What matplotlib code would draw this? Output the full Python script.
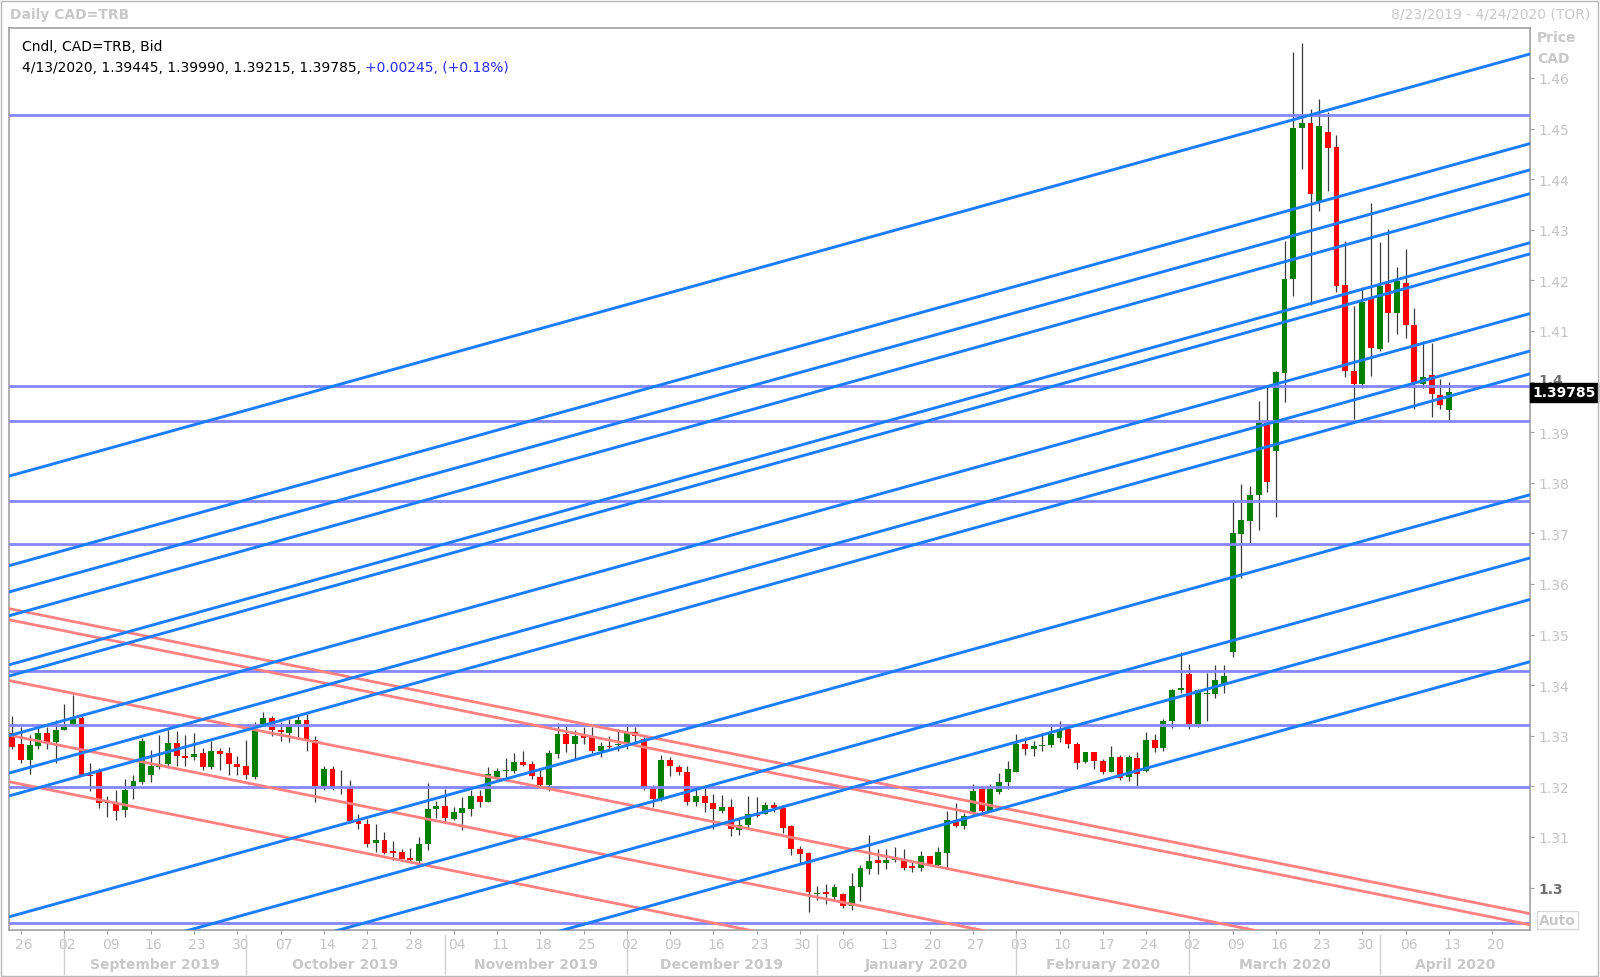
import numpy as np
import pandas as pd
import matplotlib
matplotlib.use('Agg')
import matplotlib.pyplot as plt
from matplotlib import transforms
from matplotlib.patches import Rectangle

# daily bars, 8/23/2019 .. 4/13/2020 (one per weekday)
opens = [1.3306, 1.3283, 1.3252, 1.3280, 1.3306, 1.3287, 1.3312, 1.3324, 1.3336, 1.3223,
         1.3230, 1.3172, 1.3168, 1.3153, 1.3194, 1.3209, 1.3222, 1.3238, 1.3245, 1.3286,
         1.3261, 1.3259, 1.3266, 1.3238, 1.3269, 1.3266, 1.3245, 1.3240, 1.3218, 1.3324,
         1.3335, 1.3311, 1.3306, 1.3324, 1.3332, 1.3292, 1.3200, 1.3235, 1.3199, 1.3196,
         1.3131, 1.3126, 1.3089, 1.3095, 1.3073, 1.3070, 1.3059, 1.3052, 1.3087, 1.3156,
         1.3162, 1.3136, 1.3148, 1.3156, 1.3181, 1.3170, 1.3218, 1.3231, 1.3231, 1.3248,
         1.3244, 1.3218, 1.3202, 1.3264, 1.3303, 1.3284, 1.3301, 1.3297, 1.3270, 1.3280,
         1.3282, 1.3284, 1.3307, 1.3293, 1.3198, 1.3174, 1.3253, 1.3238, 1.3228, 1.3170,
         1.3182, 1.3168, 1.3152, 1.3159, 1.3113, 1.3123, 1.3144, 1.3146, 1.3164, 1.3157,
         1.3121, 1.3077, 1.3068, 1.2988, 1.2992, 1.2981, 1.2987, 1.2964, 1.3001, 1.3037,
         1.3055, 1.3049, 1.3055, 1.3053, 1.3042, 1.3038, 1.3062, 1.3045, 1.3069, 1.3132,
         1.3122, 1.3150, 1.3194, 1.3152, 1.3188, 1.3208, 1.3228, 1.3284, 1.3274, 1.3279,
         1.3281, 1.3296, 1.3313, 1.3284, 1.3248, 1.3267, 1.3251, 1.3229, 1.3259, 1.3218,
         1.3257, 1.3231, 1.3292, 1.3275, 1.3330, 1.3390, 1.3422, 1.3323, 1.3382, 1.3383,
         1.3400, 1.3465, 1.3699, 1.3724, 1.3776, 1.3919, 1.3862, 1.4017, 1.4202, 1.4501,
         1.4512, 1.4355, 1.4494, 1.4464, 1.4191, 1.4020, 1.3995, 1.4166, 1.4064, 1.4193,
         1.4136, 1.4195, 1.4111, 1.3995, 1.4014, 1.3974, 1.39445]
highs = [1.3339, 1.3317, 1.3302, 1.3317, 1.3317, 1.3332, 1.3362, 1.3380, 1.3343, 1.3247,
         1.3236, 1.3182, 1.3192, 1.3215, 1.3222, 1.3296, 1.3271, 1.3301, 1.3312, 1.3309,
         1.3302, 1.3306, 1.3276, 1.3289, 1.3276, 1.3278, 1.3260, 1.3291, 1.3327, 1.3348,
         1.3339, 1.3328, 1.3334, 1.3339, 1.3343, 1.3299, 1.3240, 1.3240, 1.3232, 1.3212,
         1.3146, 1.3136, 1.3126, 1.3110, 1.3093, 1.3077, 1.3078, 1.3100, 1.3207, 1.3172,
         1.3194, 1.3159, 1.3179, 1.3192, 1.3192, 1.3238, 1.3236, 1.3257, 1.3266, 1.3270,
         1.3251, 1.3233, 1.3272, 1.3326, 1.3320, 1.3312, 1.3317, 1.3317, 1.3287, 1.3300,
         1.3313, 1.3320, 1.3318, 1.3297, 1.3203, 1.3262, 1.3259, 1.3242, 1.3240, 1.3195,
         1.3197, 1.3185, 1.3183, 1.3175, 1.3135, 1.3181, 1.3179, 1.3170, 1.3170, 1.3163,
         1.3124, 1.3082, 1.3070, 1.3004, 1.3007, 1.3007, 1.2989, 1.3028, 1.3045, 1.3104,
         1.3076, 1.3076, 1.3080, 1.3076, 1.3051, 1.3073, 1.3063, 1.3080, 1.3152, 1.3168,
         1.3148, 1.3205, 1.3200, 1.3205, 1.3227, 1.3250, 1.3304, 1.3297, 1.3290, 1.3306,
         1.3320, 1.3330, 1.3320, 1.3287, 1.3268, 1.3268, 1.3255, 1.3279, 1.3262, 1.3262,
         1.3267, 1.3307, 1.3303, 1.3334, 1.3393, 1.3465, 1.3442, 1.3393, 1.3425, 1.3439,
         1.3440, 1.3763, 1.3797, 1.3794, 1.3962, 1.3994, 1.4020, 1.4278, 1.4652, 1.4670,
         1.4538, 1.4559, 1.4532, 1.4487, 1.4277, 1.4150, 1.4186, 1.4353, 1.4275, 1.4302,
         1.4226, 1.4263, 1.4145, 1.4081, 1.4076, 1.4005, 1.39990]
lows = [1.3274, 1.3247, 1.3225, 1.3274, 1.3273, 1.3247, 1.3311, 1.3320, 1.3220, 1.3190,
        1.3157, 1.3139, 1.3133, 1.3139, 1.3176, 1.3204, 1.3209, 1.3235, 1.3236, 1.3241,
        1.3241, 1.3253, 1.3232, 1.3235, 1.3232, 1.3222, 1.3223, 1.3214, 1.3214, 1.3320,
        1.3299, 1.3289, 1.3287, 1.3295, 1.3269, 1.3170, 1.3192, 1.3192, 1.3184, 1.3128,
        1.3116, 1.3080, 1.3070, 1.3067, 1.3054, 1.3056, 1.3051, 1.3049, 1.3074, 1.3137,
        1.3132, 1.3133, 1.3113, 1.3141, 1.3159, 1.3170, 1.3215, 1.3216, 1.3227, 1.3240,
        1.3215, 1.3199, 1.3190, 1.3257, 1.3267, 1.3255, 1.3284, 1.3266, 1.3259, 1.3274,
        1.3270, 1.3273, 1.3284, 1.3192, 1.3159, 1.3172, 1.3220, 1.3223, 1.3164, 1.3162,
        1.3150, 1.3116, 1.3148, 1.3102, 1.3103, 1.3118, 1.3139, 1.3145, 1.3149, 1.3107,
        1.3064, 1.3049, 1.2951, 1.2976, 1.2968, 1.2976, 1.2959, 1.2956, 1.2974, 1.3027,
        1.3027, 1.3037, 1.3051, 1.3035, 1.3031, 1.3033, 1.3045, 1.3043, 1.3036, 1.3119,
        1.3116, 1.3144, 1.3147, 1.3150, 1.3185, 1.3194, 1.3228, 1.3262, 1.3260, 1.3270,
        1.3278, 1.3287, 1.3275, 1.3234, 1.3247, 1.3234, 1.3224, 1.3228, 1.3213, 1.3210,
        1.3201, 1.3229, 1.3267, 1.3270, 1.3315, 1.3385, 1.3313, 1.3318, 1.3329, 1.3375,
        1.3385, 1.3455, 1.3611, 1.3682, 1.3706, 1.3781, 1.3732, 1.3959, 1.4169, 1.4421,
        1.4152, 1.4337, 1.4377, 1.4178, 1.4010, 1.3927, 1.3987, 1.4012, 1.4061, 1.4079,
        1.4094, 1.4086, 1.3945, 1.3987, 1.3931, 1.3945, 1.39215]
closes = [1.3278, 1.3253, 1.3281, 1.3306, 1.3286, 1.3312, 1.3317, 1.3334, 1.3223, 1.3220,
          1.3168, 1.3168, 1.3151, 1.3192, 1.3210, 1.3289, 1.3240, 1.3245, 1.3286, 1.3261,
          1.3257, 1.3264, 1.3238, 1.3269, 1.3265, 1.3245, 1.3238, 1.3223, 1.3311, 1.3335,
          1.3311, 1.3307, 1.3322, 1.3332, 1.3294, 1.3200, 1.3235, 1.3199, 1.3196, 1.3131,
          1.3126, 1.3087, 1.3095, 1.3069, 1.3069, 1.3057, 1.3055, 1.3087, 1.3156, 1.3162,
          1.3137, 1.3149, 1.3157, 1.3181, 1.3170, 1.3225, 1.3231, 1.3233, 1.3249, 1.3243,
          1.3220, 1.3202, 1.3266, 1.3303, 1.3284, 1.3299, 1.3295, 1.3269, 1.3280, 1.3278,
          1.3284, 1.3308, 1.3299, 1.3198, 1.3175, 1.3253, 1.3240, 1.3228, 1.3170, 1.3182,
          1.3168, 1.3156, 1.3159, 1.3115, 1.3123, 1.3146, 1.3141, 1.3164, 1.3157, 1.3118,
          1.3077, 1.3066, 1.2992, 1.2990, 1.2988, 1.3001, 1.2964, 1.3003, 1.3038, 1.3053,
          1.3048, 1.3055, 1.3060, 1.3038, 1.3039, 1.3062, 1.3047, 1.3070, 1.3134, 1.3122,
          1.3142, 1.3191, 1.3152, 1.3194, 1.3208, 1.3234, 1.3284, 1.3274, 1.3280, 1.3282,
          1.3304, 1.3313, 1.3283, 1.3246, 1.3267, 1.3251, 1.3229, 1.3259, 1.3216, 1.3259,
          1.3224, 1.3292, 1.3275, 1.3330, 1.3391, 1.3394, 1.3323, 1.3391, 1.3385, 1.3411,
          1.3418, 1.3701, 1.3727, 1.3776, 1.3921, 1.3802, 1.4018, 1.4202, 1.4502, 1.4512,
          1.4370, 1.4505, 1.4462, 1.4188, 1.4020, 1.3995, 1.4158, 1.4066, 1.4188, 1.4136,
          1.4199, 1.4111, 1.3995, 1.4010, 1.3976, 1.3954, 1.39785]

# drawn studies: horizontal levels, rising and falling parallel trend lines
# (price at the first bar, change per bar)
h_levels = [1.4527, 1.3992, 1.3923, 1.3765, 1.3679, 1.3429, 1.3321, 1.3198, 1.2931]
blue_starts = [1.3815, 1.3638, 1.3586, 1.3539, 1.3442, 1.3420, 1.3302, 1.3228, 1.3183,
               1.2944, 1.2819, 1.2737, 1.2614]
blue_slope = 0.0004747
red_starts = [1.3550, 1.3528, 1.3408, 1.3300, 1.3208]
red_slope = -0.000343

dates = pd.bdate_range('2019-08-23', '2020-04-24')
n = len(opens)

W, H = 1600, 978
fig = plt.figure(figsize=(16, 9.78), dpi=100)
ax = fig.add_axes([9 / W, 1 - 931 / H, (1530 - 9) / W, (931 - 29) / H])
XMIN, XMAX = -0.38, 175.36
ax.set_xlim(XMIN, XMAX)
ax.set_ylim(1.29162, 1.46988)

# candles
x = np.arange(n)
o, h, l, c = map(np.array, (opens, highs, lows, closes))
cols = np.where(c >= o, '#008000', '#ff0000')
ax.vlines(x, l, h, color='#3a3a3a', lw=0.9, zorder=2)
ax.bar(x, np.maximum(np.abs(c - o), 0.00012), bottom=np.minimum(o, c), width=0.68,
       color=cols, linewidth=0, zorder=3)

# studies
xs = np.array([XMIN - 1, XMAX + 1])
for lv in h_levels:
    ax.axhline(lv, color='#8585ff', lw=2.0, zorder=4)
for s in red_starts:
    ax.plot(xs, s + red_slope * xs, color='#ff8080', lw=2.0, zorder=4)
for s in blue_starts:
    ax.plot(xs, s + blue_slope * xs, color='#1a7cff', lw=2.1, zorder=5)

for sp in ax.spines.values():
    sp.set_color('#a0a0a0')
    sp.set_linewidth(1.2)

# price axis on the right
yt = np.round(np.arange(1.30, 1.4651, 0.01), 2)
ax.yaxis.tick_right()
ax.set_yticks(yt)
ax.set_yticklabels([('%.2f' % v).rstrip('0') for v in yt])
ax.tick_params(axis='y', direction='out', length=3, color='#a0a0a0',
               labelcolor='#c4c4c4', labelsize=10, pad=3)
up = transforms.ScaledTranslation(0, 3 / 100, fig.dpi_scale_trans)
for lab, v in zip(ax.get_yticklabels(), yt):
    if abs(v * 10 - round(v * 10)) < 1e-6:
        lab.set_fontweight('bold')
        lab.set_color('#707070')
    if abs(v - 1.40) < 1e-6:
        lab.set_transform(lab.get_transform() + up)

blend = transforms.blended_transform_factory(ax.transAxes, ax.transData)
ax.text(1.0015, closes[-1], '%.5f' % closes[-1], transform=blend, ha='left', va='center',
        color='white', fontsize=10, fontweight='bold', zorder=10, clip_on=False,
        bbox=dict(facecolor='black', edgecolor='black', pad=1.6))

# date axis
mondays = [i for i in range(len(dates)) if dates[i].dayofweek == 0]
ax.set_xticks(mondays)
ax.set_xticklabels([dates[i].strftime('%d') for i in mondays])
ax.tick_params(axis='x', direction='out', length=3, color='#a0a0a0',
               labelcolor='#c4c4c4', labelsize=10, pad=2)
shift = transforms.ScaledTranslation(3 / 100, 0, fig.dpi_scale_trans)
for lab in ax.get_xticklabels():
    lab.set_transform(lab.get_transform() + shift)

xblend = transforms.blended_transform_factory(ax.transData, ax.transAxes)
starts = [i for i in range(1, len(dates)) if dates[i].month != dates[i - 1].month]
edges = starts + [XMAX]
for k, i in enumerate(starts):
    ax.plot([i, i], [-0.005, -0.049], transform=xblend, clip_on=False,
            color='#d0d0d0', lw=1)
    ax.text((i + edges[k + 1]) / 2, -0.0377, dates[i].strftime('%B %Y'), transform=xblend,
            ha='center', va='center', color='#c8c8c8', fontsize=10, fontweight='bold')

# header texts
fig.text(10 / W, 1 - 15 / H, 'Daily CAD=TRB', color='#c8c8c8', fontsize=10,
         fontweight='bold', va='center')
fig.text(1590 / W, 1 - 15 / H, '8/23/2019 - 4/24/2020 (TOR)', color='#c8c8c8',
         fontsize=10, ha='right', va='center')
fig.text(22 / W, 1 - 47 / H, 'Cndl, CAD=TRB, Bid', fontsize=10, va='center')
t1 = fig.text(22 / W, 1 - 68 / H, '4/13/2020, 1.39445, 1.39990, 1.39215, 1.39785, ',
              fontsize=10, va='center')
ax.annotate('+0.00245, (+0.18%)', xy=(1, 0.5), xycoords=t1, va='center', ha='left',
            fontsize=10, color='#2b2bff', annotation_clip=False)
fig.text(1537 / W, 1 - 38 / H, 'Price', color='#c8c8c8', fontsize=10,
         fontweight='bold', va='center')
fig.text(1537 / W, 1 - 59 / H, 'CAD', color='#c8c8c8', fontsize=10,
         fontweight='bold', va='center')
fig.text(1539 / W, 1 - 921 / H, 'Auto', color='#c8c8c8', fontsize=10, fontweight='bold',
         va='center', bbox=dict(facecolor='white', edgecolor='#d8d8d8', pad=1.5))

fig.patches.append(Rectangle((1 / W, 1 / H), 1 - 3 / W, 1 - 3 / H, transform=fig.transFigure,
                             fill=False, edgecolor='#b8b8b8', lw=1))

fig.savefig('out.png', dpi=100)
